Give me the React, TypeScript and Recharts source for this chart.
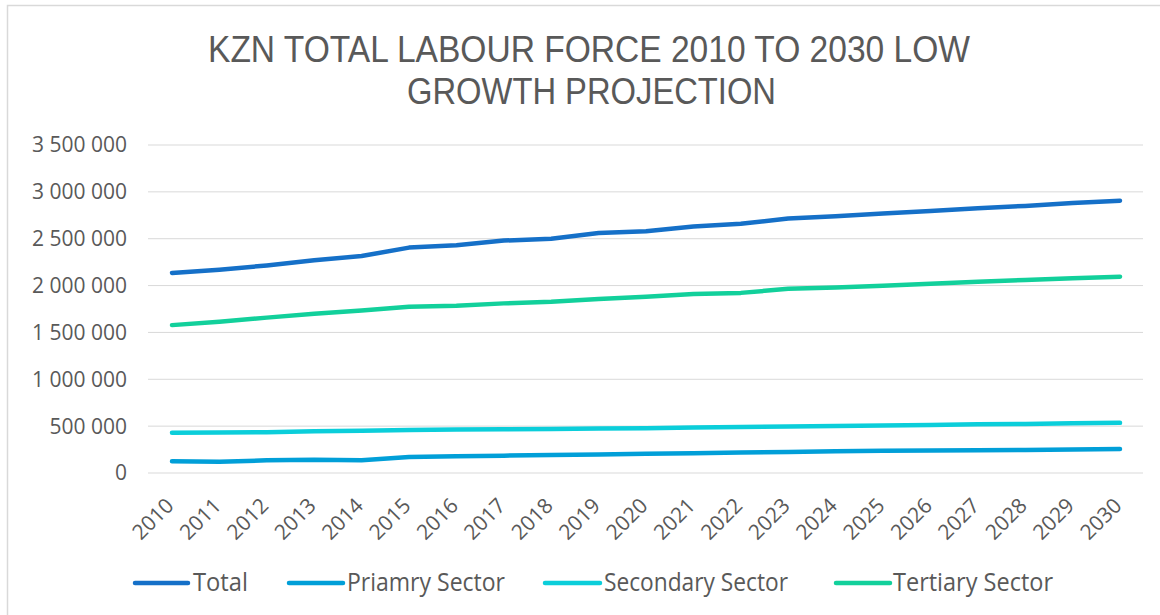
import React from "react";
import { LineChart, Line, XAxis, YAxis, CartesianGrid } from "recharts";

const years = ["2010","2011","2012","2013","2014","2015","2016","2017","2018","2019","2020","2021","2022","2023","2024","2025","2026","2027","2028","2029","2030"];
const total = [2135000,2170000,2215000,2270000,2315000,2405000,2430000,2480000,2500000,2560000,2580000,2630000,2660000,2715000,2740000,2770000,2795000,2825000,2850000,2880000,2905000];
const primary = [125000,120000,135000,142000,135000,170000,178000,185000,192000,198000,205000,212000,218000,225000,232000,238000,240000,243000,246000,250000,255000];
const secondary = [430000,432000,435000,445000,452000,460000,463000,467000,470000,476000,478000,485000,490000,497000,502000,507000,513000,519000,524000,530000,535000];
const tertiary = [1578000,1615000,1658000,1700000,1735000,1773000,1785000,1810000,1828000,1858000,1880000,1910000,1922000,1965000,1980000,1998000,2020000,2040000,2060000,2078000,2095000];
const yTicks = [0,500000,1000000,1500000,2000000,2500000,3000000,3500000];

const series = [
  { key: "total", name: "Total", color: "#1570C8" },
  { key: "primary", name: "Priamry Sector", color: "#019FD8" },
  { key: "secondary", name: "Secondary Sector", color: "#0BCEDA" },
  { key: "tertiary", name: "Tertiary Sector", color: "#12D09B" },
];

const data = years.map((y, i) => ({
  year: y,
  total: total[i],
  primary: primary[i],
  secondary: secondary[i],
  tertiary: tertiary[i],
}));

const FONT = "'Open Sans', sans-serif";
const TITLE_FONT = "'Liberation Sans', Arial, sans-serif";
const TXT = "#595959";

const fmt = (v: number) => String(v).replace(/\B(?=(\d{3})+(?!\d))/g, " ");

const XTick = (props: any) => {
  const { x, y, payload } = props;
  const ax = x + 3;
  const ay = y + 34;
  return (
    <text x={ax} y={ay} transform={`rotate(-45, ${ax}, ${ay})`} textAnchor="end" fill={TXT} fontSize={21} fontFamily={FONT}>
      {payload.value}
    </text>
  );
};

const legendLayout = [
  { x1: 135, x2: 188, tx: 193, len: 55 },
  { x1: 289, x2: 343, tx: 347, len: 158 },
  { x1: 545, x2: 600, tx: 604, len: 184 },
  { x1: 836, x2: 890, tx: 893, len: 160 },
];

export default function App() {
  return (
    <div style={{ position: "absolute", left: 0, top: 0, width: 1160, height: 615, background: "#fff", overflow: "hidden" }}>
      <LineChart width={1160} height={615} data={data} margin={{ top: 145, right: 17, left: 0, bottom: 72 }}>
        <CartesianGrid vertical={false} stroke="#d9d9d9" strokeWidth={1} />
        <XAxis
          dataKey="year"
          axisLine={false}
          tickLine={false}
          tickSize={0}
          tickMargin={0}
          height={70}
          interval={0}
          padding={{ left: 24, right: 23 }}
          tick={<XTick />}
        />
        <YAxis
          width={148}
          domain={[0, 3500000]}
          ticks={yTicks}
          tickFormatter={fmt}
          axisLine={false}
          tickLine={false}
          tickSize={0}
          tickMargin={21}
          tick={{ fill: TXT, fontSize: 21, fontFamily: FONT }}
        />
        {series.map((s) => (
          <Line
            key={s.key}
            dataKey={s.key}
            name={s.name}
            stroke={s.color}
            strokeWidth={4.5}
            strokeLinecap="round"
            strokeLinejoin="round"
            dot={false}
            activeDot={false}
            type="linear"
            isAnimationActive={false}
          />
        ))}
      </LineChart>
      <svg width={1160} height={615} style={{ position: "absolute", left: 0, top: 0, pointerEvents: "none" }}>
        <rect x={7.5} y={5.5} width={1200} height={700} fill="none" stroke="#d9d9d9" strokeWidth={1.5} />
        <text x={208} y={62} textLength={762} lengthAdjust="spacingAndGlyphs" fill={TXT} fontSize={37} fontFamily={TITLE_FONT}>
          KZN TOTAL LABOUR FORCE 2010 TO 2030 LOW
        </text>
        <text x={407} y={104} textLength={369} lengthAdjust="spacingAndGlyphs" fill={TXT} fontSize={37} fontFamily={TITLE_FONT}>
          GROWTH PROJECTION
        </text>
        {series.map((s, i) => {
          const l = legendLayout[i];
          return (
            <g key={s.key}>
              <line x1={l.x1} x2={l.x2} y1={583} y2={583} stroke={s.color} strokeWidth={4.5} strokeLinecap="round" />
              <text x={l.tx} y={591} textLength={l.len} lengthAdjust="spacingAndGlyphs" fill={TXT} fontSize={25} fontFamily={FONT}>
                {s.name}
              </text>
            </g>
          );
        })}
      </svg>
    </div>
  );
}
